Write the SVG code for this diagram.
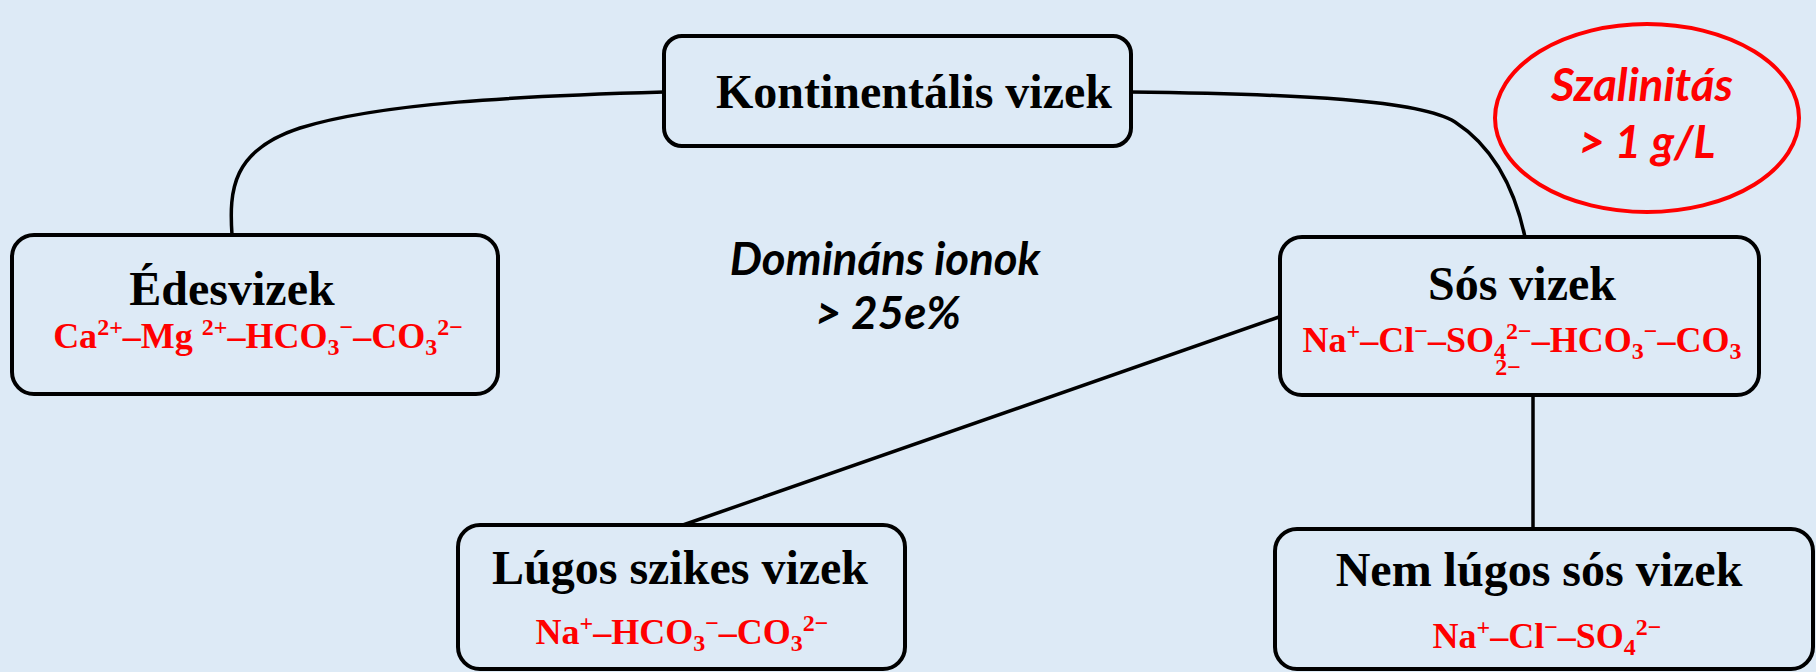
<svg xmlns="http://www.w3.org/2000/svg" width="1816" height="672" viewBox="0 0 1816 672">
<style>
.bg{fill:#DDEAF6}
.box{fill:#DDEAF6;stroke:#000;stroke-width:4}
.conn{fill:none;stroke:#000;stroke-width:3.5}
.title{font-family:"Liberation Serif","Times New Roman",serif;font-weight:bold;font-size:48px;fill:#000;text-anchor:middle}
.ion{font-family:"Liberation Serif","Times New Roman",serif;font-weight:bold;font-size:36px;fill:#FF0000;text-anchor:middle}
.s{font-size:24px}
.note{font-family:Lato,"Open Sans",sans-serif;font-weight:bold;font-style:italic;font-size:45.5px;text-anchor:middle}
</style>
<rect class="bg" x="0" y="0" width="1816" height="672"/>
<g id="connectors">
<path class="conn" d="M232,235 C229,190 232,150 300,128 C380,103 520,96 664,92"/>
<path class="conn" d="M1130,92 C1300,94 1420,100 1455,122 C1495,148 1515,190 1525,237"/>
<path class="conn" d="M1279,317 L683,525"/>
<path class="conn" d="M1533,395 L1533,529"/>
</g>
<g id="node-kontinentalis">
<rect class="box" x="664" y="36" width="467" height="110" rx="18"/>
<text class="title" x="914" y="108">Kontinentális vizek</text>
</g>
<g id="node-edesvizek">
<rect class="box" x="12" y="235" width="486" height="159" rx="22"/>
<text class="title" x="232" y="305">Édesvizek</text>
<text class="ion" x="258" y="348">Ca<tspan class="s" dy="-13">2+</tspan><tspan dy="13">–Mg </tspan><tspan class="s" dy="-13">2+</tspan><tspan dy="13">–HCO</tspan><tspan class="s" dy="7">3</tspan><tspan class="s" dy="-20">−</tspan><tspan dy="13">–CO</tspan><tspan class="s" dy="7">3</tspan><tspan class="s" dy="-20">2−</tspan></text>
</g>
<g id="node-sos">
<rect class="box" x="1280" y="237" width="479" height="158" rx="22"/>
<text class="title" x="1522" y="300">Sós vizek</text>
<text class="ion" x="1522" y="352">Na<tspan class="s" dy="-13">+</tspan><tspan dy="13">–Cl</tspan><tspan class="s" dy="-13">−</tspan><tspan dy="13">–SO</tspan><tspan class="s" dy="7">4</tspan><tspan class="s" dy="-20">2−</tspan><tspan dy="13">–HCO</tspan><tspan class="s" dy="7">3</tspan><tspan class="s" dy="-20">−</tspan><tspan dy="13">–CO</tspan><tspan class="s" dy="7">3</tspan></text>
<text class="ion s" x="1508" y="375">2−</text>
</g>
<g id="node-lugos">
<rect class="box" x="458" y="525" width="447" height="144" rx="22"/>
<text class="title" x="680" y="584">Lúgos szikes vizek</text>
<text class="ion" x="682" y="644">Na<tspan class="s" dy="-13">+</tspan><tspan dy="13">–HCO</tspan><tspan class="s" dy="7">3</tspan><tspan class="s" dy="-20">−</tspan><tspan dy="13">–CO</tspan><tspan class="s" dy="7">3</tspan><tspan class="s" dy="-20">2−</tspan></text>
</g>
<g id="node-nemlugos">
<rect class="box" x="1275" y="529" width="538" height="140" rx="22"/>
<text class="title" x="1539" y="586">Nem lúgos sós vizek</text>
<text class="ion" x="1547" y="648">Na<tspan class="s" dy="-13">+</tspan><tspan dy="13">–Cl</tspan><tspan class="s" dy="-13">−</tspan><tspan dy="13">–SO</tspan><tspan class="s" dy="7">4</tspan><tspan class="s" dy="-20">2−</tspan></text>
</g>
<g id="node-dominans">
<text class="note" x="885" y="275" fill="#000">Domináns ionok</text>
<text class="note" x="888" y="329" fill="#000">&gt; 25e%</text>
</g>
<g id="node-szalinitas">
<ellipse cx="1647" cy="118" rx="152" ry="94" fill="none" stroke="#FF0000" stroke-width="4"/>
<text class="note" x="1642" y="101" fill="#FF0000">Szalinitás</text>
<text class="note" x="1647" y="158" fill="#FF0000">&gt; 1 g/L</text>
</g>
</svg>
